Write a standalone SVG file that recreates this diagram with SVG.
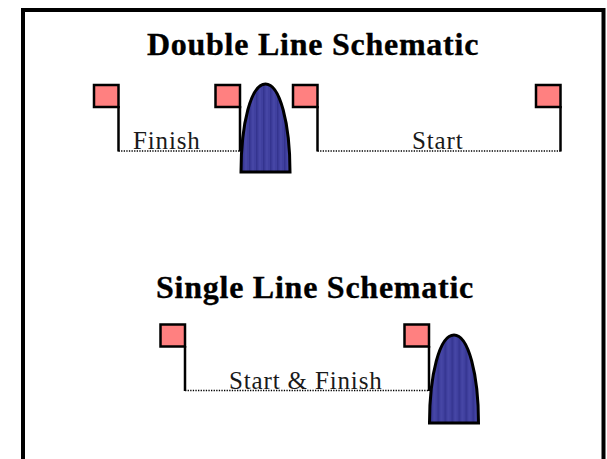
<svg xmlns="http://www.w3.org/2000/svg" width="607" height="459" viewBox="0 0 607 459">
<style>
text{font-family:"Liberation Serif","Times New Roman",serif;fill:#000}
.t{font-size:32px;font-weight:bold;letter-spacing:.75px;stroke:#000;stroke-width:.35px}
.l{font-size:25px;letter-spacing:.85px;fill:#1a1a1a}
.f{fill:#ff8080;stroke:#000;stroke-width:2.500}
.p{fill:none;stroke:#000;stroke-width:2.500}
.h{fill:url(#stripes);stroke:#000;stroke-width:3}
.d{fill:none;stroke:#000;stroke-width:1.500;stroke-dasharray:1.300 1.300}
</style>
<defs>
<pattern id="stripes" patternUnits="userSpaceOnUse" width="7" height="4">
<rect width="7" height="4" fill="#40409f"/>
<rect x="1" width="1.500" height="4" fill="#34348f"/>
<rect x="4.500" width="1" height="4" fill="#4c4cab"/>
</pattern>
<path id="hill" class="h" d="M0 88C0 40 10 0 24.500 0C39 0 49 40 49 88Z"/>
<g id="flag"><rect class="f" x="-24.500" y="0" width="24.500" height="22"/></g>
</defs>
<rect width="607" height="459" fill="#fff"/>
<path d="M23 459V10H603.500V459" fill="none" stroke="#000" stroke-width="4"/>
<text id="title-double" class="t" x="313" y="55" text-anchor="middle">Double Line Schematic</text>
<text id="title-single" class="t" x="315" y="298" text-anchor="middle">Single Line Schematic</text>
<g id="connectors">
<path class="d" d="M118.500 151H240M317.500 151H560.500M185 390.500H429"/>
<path class="p" d="M118.500 106V151.500M240 106V151.500M317.500 106V151.500M560.500 106V151.500M185 346V391M429 346V391"/>
</g>
<g id="flag-finish-left"><use href="#flag" x="118.500" y="85"/></g>
<g id="flag-finish-right"><use href="#flag" x="240" y="85"/></g>
<g id="flag-start-left"><use href="#flag" x="317.500" y="85"/></g>
<g id="flag-start-right"><use href="#flag" x="560.500" y="85"/></g>
<g id="flag-single-left"><use href="#flag" x="185" y="324.500"/></g>
<g id="flag-single-right"><use href="#flag" x="429" y="324.500"/></g>
<g id="hill-double"><use href="#hill" x="241" y="84"/></g>
<g id="hill-single"><use href="#hill" x="429.500" y="335"/></g>
<text id="label-finish" class="l" x="133" y="149">Finish</text>
<text id="label-start" class="l" x="412" y="149">Start</text>
<text id="label-both" class="l" x="229" y="389">Start &amp; Finish</text>
</svg>
